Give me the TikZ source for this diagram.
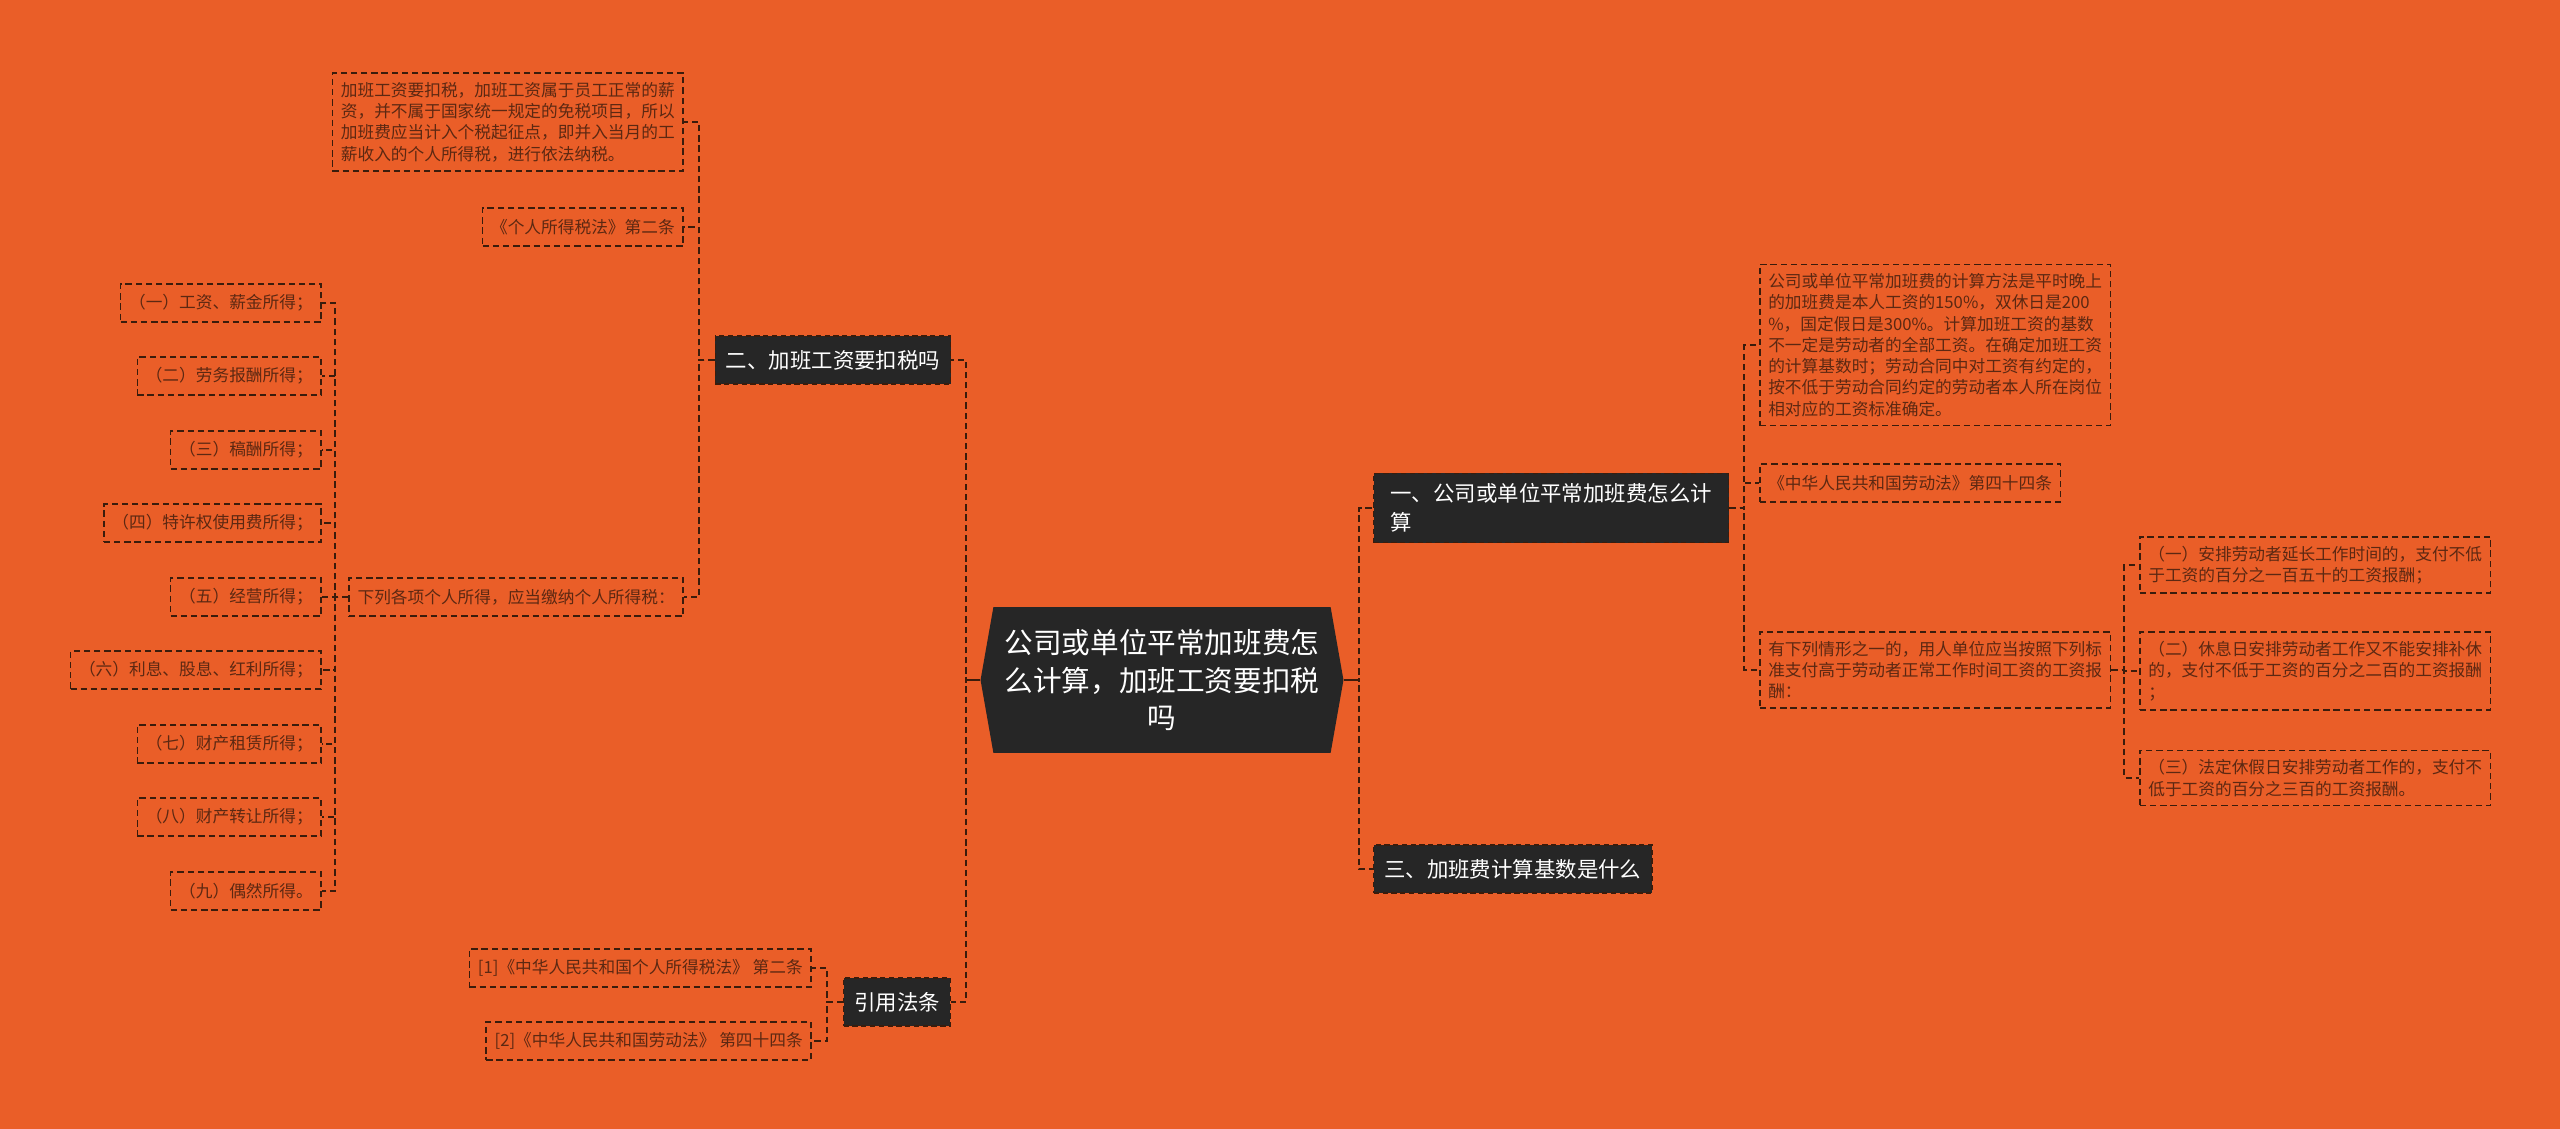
\documentclass[tikz,border=0pt]{standalone}
\usepackage{fontspec}
\setmainfont{Noto Sans CJK SC}
\usepackage{tikz}
\usetikzlibrary{positioning,shapes.symbols}
\definecolor{cbg}{RGB}{234,94,40}
\definecolor{cdark}{RGB}{38,38,38}
\definecolor{cleaf}{RGB}{92,40,18}
\definecolor{cline}{RGB}{58,28,12}

\begin{document}
\begin{tikzpicture}[x=0.02cm, y=-0.02cm,
  root/.style={shape=signal, signal to=west and east, signal pointer angle=160, fill=cdark,
               text=white, align=center, minimum width=7.26cm, minimum height=2.92cm,
               inner sep=0pt, font=\fontsize{16.3}{21.3}\selectfont},
  topic/.style={draw=cline, dash pattern=on 3pt off 2pt, line width=0.8pt, fill=cdark,
                text=white, align=left, inner xsep=0.21cm, inner ysep=0.2cm,
                minimum height=0.96cm, font=\fontsize{12.2}{16.7}\selectfont},
  leaf/.style={draw=cline, dash pattern=on 3.6pt off 2.2pt, line width=0.9pt, text=cleaf,
               align=left, inner xsep=0.17cm, inner ysep=0.18cm, minimum height=0.76cm,
               font=\fontsize{9.5}{12.1}\selectfont},
  link/.style={draw=cline, dash pattern=on 3.6pt off 2.2pt, line width=1.1pt},
  stub/.style={draw=cline, line width=1.4pt}]
\useasboundingbox (0,0) rectangle (2560,1129);
\fill[cbg] (0,0) rectangle (2560,1129);

% centre and main topics
\node[root] (root) at (1162,680) {公司或单位平常加班费怎\\么计算，加班工资要扣税\\吗};
\node[topic] (b2) at (833,360) {二、加班工资要扣税吗};
\node[topic] (b4) at (897,1002) {引用法条};
\node[topic, anchor=west, minimum width=7.1cm] (b1) at (1373,508) {一、公司或单位平常加班费怎么计\\算};
\node[topic, anchor=west] (b3) at (1373,869) {三、加班费计算基数是什么};

% left side
\node[leaf, anchor=east] (tax1) at (684,122) {加班工资要扣税，加班工资属于员工正常的薪\\资，并不属于国家统一规定的免税项目，所以\\加班费应当计入个税起征点，即并入当月的工\\薪收入的个人所得税，进行依法纳税。};
\node[leaf, anchor=east] (tax2) at (684,227) {《个人所得税法》第二条};
\node[leaf, anchor=east] (tax3) at (684,597) {下列各项个人所得，应当缴纳个人所得税：};
\node[leaf, anchor=east] (i1) at (322,303) {（一）工资、薪金所得；};
\node[leaf, anchor=east] (i2) at (322,376) {（二）劳务报酬所得；};
\node[leaf, anchor=east] (i3) at (322,450) {（三）稿酬所得；};
\node[leaf, anchor=east] (i4) at (322,523) {（四）特许权使用费所得；};
\node[leaf, anchor=east] (i5) at (322,597) {（五）经营所得；};
\node[leaf, anchor=east] (i6) at (322,670) {（六）利息、股息、红利所得；};
\node[leaf, anchor=east] (i7) at (322,744) {（七）财产租赁所得；};
\node[leaf, anchor=east] (i8) at (322,817) {（八）财产转让所得；};
\node[leaf, anchor=east] (i9) at (322,891) {（九）偶然所得。};
\node[leaf, anchor=east] (ref1) at (812,968) {[1]《中华人民共和国个人所得税法》 第二条};
\node[leaf, anchor=east] (ref2) at (812,1041) {[2]《中华人民共和国劳动法》 第四十四条};

% right side
\node[leaf, anchor=west] (calc1) at (1759,345) {公司或单位平常加班费的计算方法是平时晚上\\的加班费是本人工资的150\%，双休日是200\\\%，国定假日是300\%。计算加班工资的基数\\不一定是劳动者的全部工资。在确定加班工资\\的计算基数时；劳动合同中对工资有约定的，\\按不低于劳动合同约定的劳动者本人所在岗位\\相对应的工资标准确定。};
\node[leaf, anchor=west] (calc2) at (1759,483) {《中华人民共和国劳动法》第四十四条};
\node[leaf, anchor=west] (calc3) at (1759,670) {有下列情形之一的，用人单位应当按照下列标\\准支付高于劳动者正常工作时间工资的工资报\\酬：};
\node[leaf, anchor=west] (std1) at (2139,565) {（一）安排劳动者延长工作时间的，支付不低\\于工资的百分之一百五十的工资报酬；};
\node[leaf, anchor=west] (std2) at (2139,671) {（二）休息日安排劳动者工作又不能安排补休\\的，支付不低于工资的百分之二百的工资报酬\\；};
\node[leaf, anchor=west] (std3) at (2139,778) {（三）法定休假日安排劳动者工作的，支付不\\低于工资的百分之三百的工资报酬。};

% connectors
\draw[link] (root.west) -- ++(-14,0) |- (b2.east);
\draw[link] (root.west) -- ++(-14,0) |- (b4.east);
\draw[link] (root.east) -- ++(15,0) |- (b1.west);
\draw[link] (root.east) -- ++(15,0) |- (b3.west);
\draw[stub] (root.west) -- ++(-14,0);
\draw[stub] (root.east) -- ++(15,0);
\draw[link] (b2.west) -- ++(-16,0) |- (tax1.east);
\draw[link] (b2.west) -- ++(-16,0) |- (tax2.east);
\draw[link] (b2.west) -- ++(-16,0) |- (tax3.east);
\draw[link] (tax3.west) -- ++(-13,0) |- (i1.east);
\draw[link] (tax3.west) -- ++(-13,0) |- (i2.east);
\draw[link] (tax3.west) -- ++(-13,0) |- (i3.east);
\draw[link] (tax3.west) -- ++(-13,0) |- (i4.east);
\draw[link] (tax3.west) -- ++(-13,0) |- (i5.east);
\draw[link] (tax3.west) -- ++(-13,0) |- (i6.east);
\draw[link] (tax3.west) -- ++(-13,0) |- (i7.east);
\draw[link] (tax3.west) -- ++(-13,0) |- (i8.east);
\draw[link] (tax3.west) -- ++(-13,0) |- (i9.east);
\draw[link] (b4.west) -- ++(-16,0) |- (ref1.east);
\draw[link] (b4.west) -- ++(-16,0) |- (ref2.east);
\draw[link] (b1.east) -- ++(15,0) |- (calc1.west);
\draw[link] (b1.east) -- ++(15,0) |- (calc2.west);
\draw[link] (b1.east) -- ++(15,0) |- (calc3.west);
\draw[link] (calc3.east) -- ++(13,0) |- (std1.west);
\draw[link] (calc3.east) -- ++(13,0) |- (std2.west);
\draw[link] (calc3.east) -- ++(13,0) |- (std3.west);
\end{tikzpicture}
\end{document}
